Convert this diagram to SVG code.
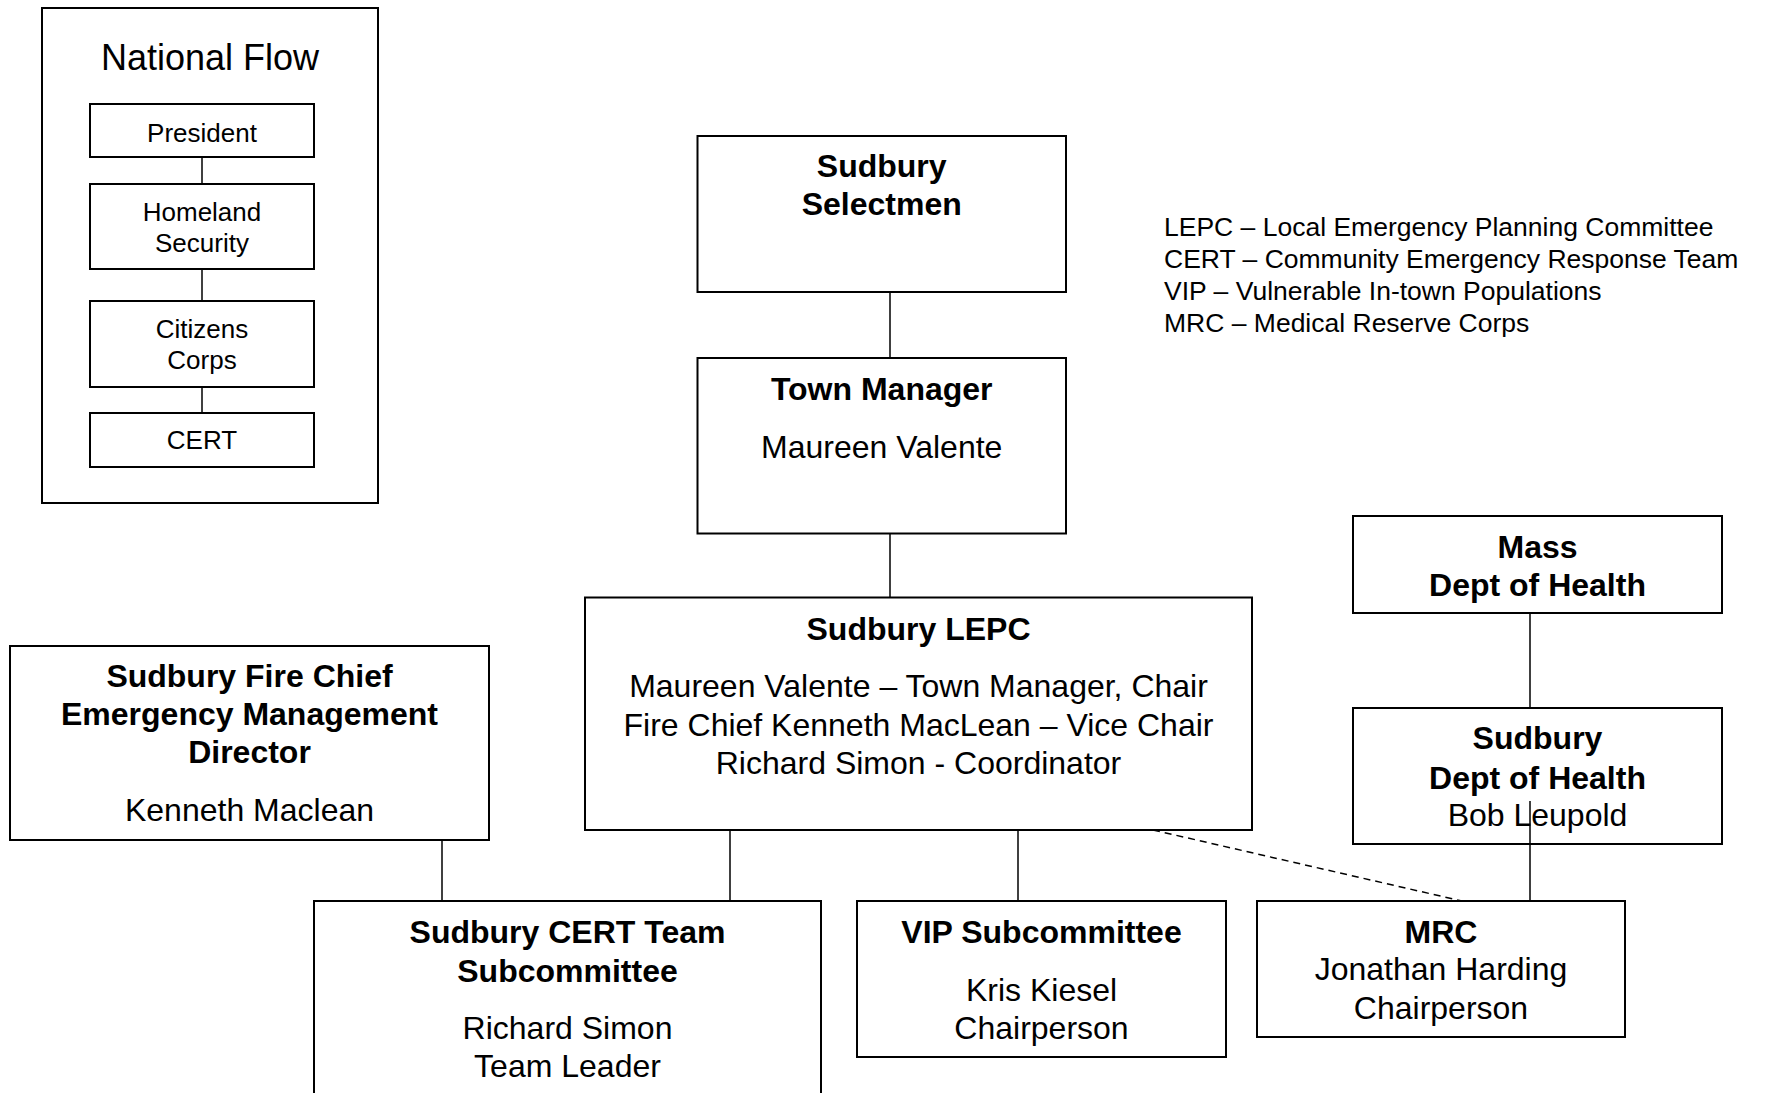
<svg xmlns="http://www.w3.org/2000/svg" width="1765" height="1093" viewBox="0 0 1765 1093">
<style>
.box{fill:#fff;stroke:#000;stroke-width:2}
.c{stroke:#000;stroke-width:1.5;fill:none}
.d{stroke:#000;stroke-width:1.5;stroke-dasharray:7 5;fill:none}
text{font-family:"Liberation Sans",Arial,sans-serif;fill:#000}
.b{font-weight:bold;font-size:32px;text-anchor:middle}
.r{font-size:32px;text-anchor:middle}
.s{font-size:26px;text-anchor:middle}
.t{font-size:36px;text-anchor:middle}
.l{font-size:26.5px}
</style>
<rect width="1765" height="1093" fill="#fff"/>
<g id="national-flow">
<rect class="box" x="42" y="8" width="336" height="495"/>
<text class="t" x="210" y="70">National Flow</text>
</g>
<g id="president">
<rect class="box" x="90" y="104" width="224" height="53"/>
<text class="s" x="202" y="142">President</text>
</g>
<g id="homeland-security">
<rect class="box" x="90" y="184" width="224" height="85"/>
<text class="s" x="202" y="221">Homeland</text>
<text class="s" x="202" y="252">Security</text>
</g>
<g id="citizens-corps">
<rect class="box" x="90" y="301" width="224" height="86"/>
<text class="s" x="202" y="338">Citizens</text>
<text class="s" x="202" y="369">Corps</text>
</g>
<g id="cert-national">
<rect class="box" x="90" y="413" width="224" height="54"/>
<text class="s" x="202" y="449">CERT</text>
</g>
<g id="selectmen">
<rect class="box" x="697.5" y="136" width="368.5" height="156"/>
<text class="b" x="881.7" y="177">Sudbury</text>
<text class="b" x="881.7" y="215">Selectmen</text>
</g>
<g id="town-manager">
<rect class="box" x="697.5" y="358" width="368.5" height="175.5"/>
<text class="b" x="881.7" y="400">Town Manager</text>
<text class="r" x="881.7" y="457.5">Maureen Valente</text>
</g>
<g id="legend">
<text class="l" x="1164" y="236">LEPC – Local Emergency Planning Committee</text>
<text class="l" x="1164" y="268">CERT – Community Emergency Response Team</text>
<text class="l" x="1164" y="300">VIP – Vulnerable In-town Populations</text>
<text class="l" x="1164" y="332">MRC – Medical Reserve Corps</text>
</g>
<g id="lepc">
<rect class="box" x="585" y="597.5" width="667" height="232.5"/>
<text class="b" x="918.5" y="639.5">Sudbury LEPC</text>
<text class="r" x="918.5" y="697">Maureen Valente – Town Manager, Chair</text>
<text class="r" x="918.5" y="735.5">Fire Chief Kenneth MacLean – Vice Chair</text>
<text class="r" x="918.5" y="773.5">Richard Simon - Coordinator</text>
</g>
<g id="fire-chief">
<rect class="box" x="10" y="646" width="479" height="194"/>
<text class="b" x="249.5" y="687">Sudbury Fire Chief</text>
<text class="b" x="249.5" y="725">Emergency Management</text>
<text class="b" x="249.5" y="763">Director</text>
<text class="r" x="249.5" y="821">Kenneth Maclean</text>
</g>
<g id="mass-doh">
<rect class="box" x="1353" y="516" width="369" height="97"/>
<text class="b" x="1537.5" y="557.5">Mass</text>
<text class="b" x="1537.5" y="595.5">Dept of Health</text>
</g>
<g id="sudbury-doh">
<rect class="box" x="1353" y="708" width="369" height="136"/>
<text class="b" x="1537.5" y="748.5">Sudbury</text>
<text class="b" x="1537.5" y="789">Dept of Health</text>
<text class="r" x="1537.5" y="826">Bob Leupold</text>
</g>
<g id="cert-team">
<rect class="box" x="314" y="901" width="507" height="220"/>
<text class="b" x="567.5" y="943">Sudbury CERT Team</text>
<text class="b" x="567.5" y="981.5">Subcommittee</text>
<text class="r" x="567.5" y="1039">Richard Simon</text>
<text class="r" x="567.5" y="1077">Team Leader</text>
</g>
<g id="vip">
<rect class="box" x="857" y="901" width="369" height="156"/>
<text class="b" x="1041.5" y="943">VIP Subcommittee</text>
<text class="r" x="1041.5" y="1001">Kris Kiesel</text>
<text class="r" x="1041.5" y="1039">Chairperson</text>
</g>
<g id="mrc">
<rect class="box" x="1257" y="901" width="368" height="136"/>
<text class="b" x="1441" y="943">MRC</text>
<text class="r" x="1441" y="980">Jonathan Harding</text>
<text class="r" x="1441" y="1019">Chairperson</text>
</g>
<g id="connectors">
<line class="c" x1="202" y1="157" x2="202" y2="184"/>
<line class="c" x1="202" y1="269" x2="202" y2="301"/>
<line class="c" x1="202" y1="387" x2="202" y2="413"/>
<line class="c" x1="890" y1="292" x2="890" y2="358"/>
<line class="c" x1="890" y1="533.5" x2="890" y2="597.5"/>
<line class="c" x1="442" y1="840" x2="442" y2="901"/>
<line class="c" x1="730" y1="830" x2="730" y2="901"/>
<line class="c" x1="1018" y1="830" x2="1018" y2="901"/>
<line class="c" x1="1530" y1="613" x2="1530" y2="708"/>
<line class="c" x1="1530" y1="801" x2="1530" y2="901"/>
<line class="d" x1="1153" y1="830" x2="1462" y2="901"/>
</g>
</svg>
